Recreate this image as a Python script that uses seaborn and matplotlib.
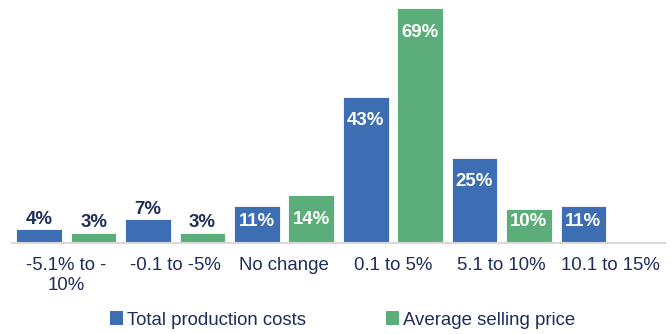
import numpy as np
import pandas as pd
import matplotlib
matplotlib.use("Agg")
import matplotlib.pyplot as plt
from matplotlib.patches import Patch
import seaborn as sns

# Data
categories = ["-5.1% to -\n10%", "-0.1 to -5%", "No change", "0.1 to 5%", "5.1 to 10%", "10.1 to 15%"]
series_names = ["Total production costs", "Average selling price"]
production_costs = [4, 7, 11, 43, 25, 11]
selling_price = [3, 3, 14, 69, 10, None]

BLUE = "#3D6DB2"
GREEN = "#5BAD79"
NAVY = "#1E2C5E"
AXIS_GREY = "#D9D9D9"

rows = []
for cat, v in zip(categories, production_costs):
    if v is not None:
        rows.append({"category": cat, "series": series_names[0], "value": v})
for cat, v in zip(categories, selling_price):
    if v is not None:
        rows.append({"category": cat, "series": series_names[1], "value": v})
df = pd.DataFrame(rows)

sns.set_theme(style="white")
plt.rcParams["font.family"] = ["Liberation Sans", "DejaVu Sans"]

fig = plt.figure(figsize=(6.72, 3.34), dpi=100)
ax = fig.add_axes([12 / 672, 91 / 334, 653 / 672, 238 / 334])

sns.barplot(
    data=df, x="category", y="value", hue="series",
    order=categories, hue_order=series_names,
    palette=[BLUE, GREEN], saturation=1, width=1.0, gap=0.16,
    edgecolor="white", linewidth=0.6, legend=False, ax=ax,
)

ax.set_xlim(-0.5, len(categories) - 0.5)
ax.set_ylim(0, 70)
ax.set_xlabel("")
ax.set_ylabel("")
ax.set_yticks([])
for side in ("top", "right", "left"):
    ax.spines[side].set_visible(False)
ax.spines["bottom"].set_color(AXIS_GREY)
ax.spines["bottom"].set_linewidth(1.5)

# Category labels at centres, tick marks at category boundaries
ax.set_xticks(range(len(categories)))
ax.set_xticklabels(categories, fontsize=13.4, color=NAVY, linespacing=1.25)
ax.tick_params(axis="x", which="major", length=0, pad=10)
ax.set_xticks(np.arange(-0.5, len(categories)), minor=True)
ax.tick_params(axis="x", which="minor", length=6, width=1.5, color=AXIS_GREY, direction="out")

# Value labels
px_per_unit = 238 / 70
for container, values in zip(ax.containers, [production_costs, selling_price]):
    present = [v for v in values if v is not None]
    for bar, v in zip(container.patches, present):
        xc = bar.get_x() + bar.get_width() / 2
        if v < 10:
            ax.text(xc, v + 10 / px_per_unit, f"{v}%", ha="center", va="center",
                    fontsize=13.4, fontweight="bold", color=NAVY)
        else:
            y = max(v - 24 / px_per_unit, 21 / px_per_unit)
            ax.text(xc, y, f"{v}%", ha="center", va="center",
                    fontsize=13.4, fontweight="bold", color="white")

handles = [Patch(facecolor=BLUE, edgecolor="none"), Patch(facecolor=GREEN, edgecolor="none")]
fig.legend(handles, series_names, loc="center", bbox_to_anchor=(0.51, 14 / 334),
           ncol=2, frameon=False, fontsize=13.4, handlelength=0.7, handleheight=0.7,
           handletextpad=0.2, columnspacing=4.3, labelcolor=NAVY)

fig.savefig("out.png", dpi=100)
